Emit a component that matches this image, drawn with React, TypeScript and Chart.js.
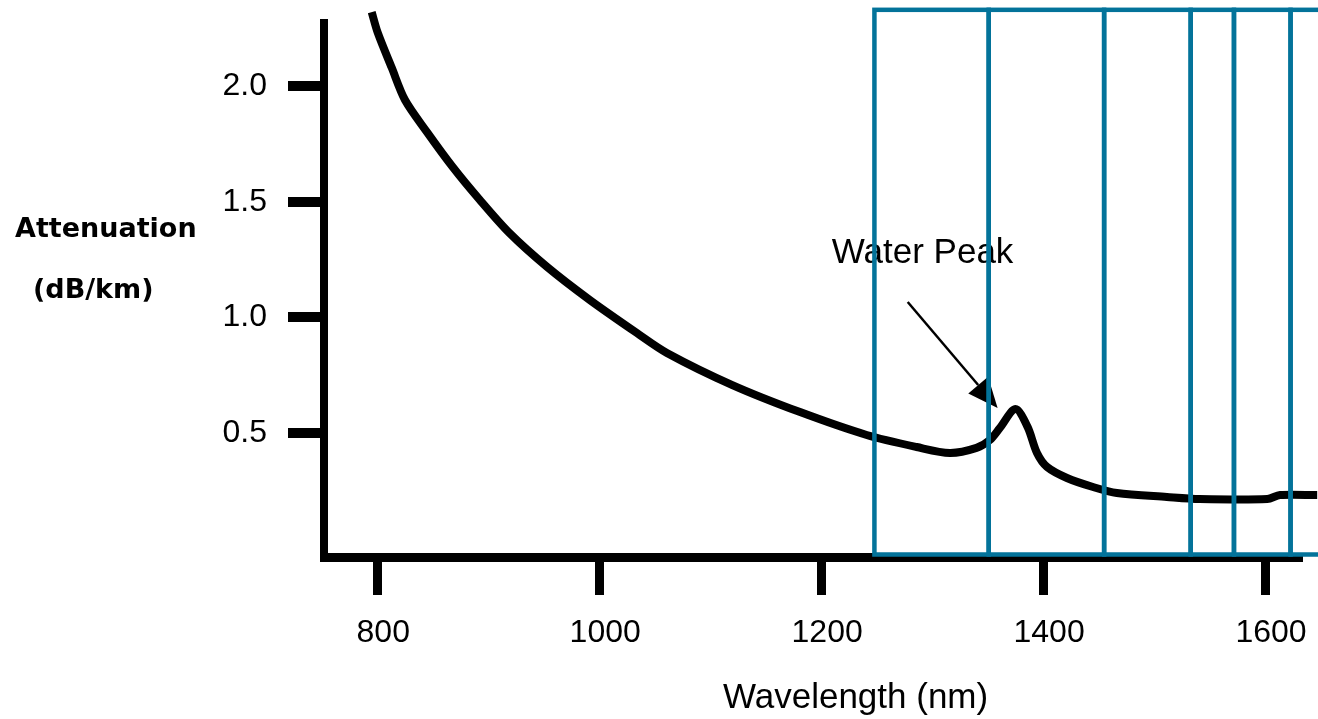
import React, { useEffect, useRef } from 'react';
import { Chart, registerables } from 'chart.js';

Chart.register(...registerables);

// ---- data ----
const wavelengths = [795, 800.5, 813, 825, 845, 868, 892, 919, 953, 991.5, 1034, 1061, 1120, 1181, 1241, 1286, 1316, 1340, 1352, 1361, 1375, 1386, 1394.5, 1403.5, 1421.5, 1445, 1466.5, 1511.5, 1541, 1602, 1613.5, 1647];
const attenuation = [2.32, 2.23, 2.08, 1.94, 1.8, 1.65, 1.51, 1.365, 1.218, 1.075, 0.932, 0.846, 0.707, 0.59, 0.491, 0.439, 0.413, 0.435, 0.469, 0.521, 0.603, 0.526, 0.413, 0.353, 0.305, 0.266, 0.24, 0.223, 0.214, 0.214, 0.231, 0.231];
const xTicks = [800, 1000, 1200, 1400, 1600];
const yTicks = [0.5, 1.0, 1.5, 2.0];
const bandEdges = [1248, 1351, 1455, 1533, 1572, 1623, 1675];
const bandTop = 2.33;
const bandBottom = -0.026;
const xMin = 752;
const xMax = 1629.7;
const yMin = -0.0368;
const yMax = 2.273;
const peakLabel = 'Water Peak';
const peakLabelAt = { x: 1209.6, y: 1.235 };
const arrowFrom = { x: 1278, y: 1.066 };
const arrowTo = { x: 1359, y: 0.608 };
const yTitleLines = ['Attenuation', '(dB/km)'];
const xTitle = 'Wavelength (nm)';

const TEAL = '#03739A';
const SANS = "'Liberation Sans', Arial, sans-serif";

export default function App() {
  const ref = useRef<HTMLCanvasElement>(null);

  useEffect(() => {
    document.body.style.margin = '0';
    const canvas = ref.current;
    if (!canvas) return;

    const overlay = {
      id: 'overlay',
      afterDatasetsDraw(chart: any) {
        const ctx = chart.ctx;
        const xs = chart.scales.x;
        const ys = chart.scales.y;
        const ca = chart.chartArea;
        ctx.save();
        ctx.fillStyle = '#000';
        ctx.strokeStyle = '#000';
        // y title (horizontal, two lines)
        ctx.font = "bold 27px 'DejaVu Sans', sans-serif";
        ctx.textBaseline = 'alphabetic';
        ctx.textAlign = 'left';
        ctx.fillText(yTitleLines[0], ca.left - 309, 237);
        ctx.fillText(yTitleLines[1], ca.left - 291, 298);
        // x title
        ctx.font = '35px ' + SANS;
        ctx.fillText(xTitle, 723, 708);
        // annotation text
        ctx.fillText(peakLabel, xs.getPixelForValue(peakLabelAt.x), ys.getPixelForValue(peakLabelAt.y));
        // arrow
        const x1 = xs.getPixelForValue(arrowFrom.x);
        const y1 = ys.getPixelForValue(arrowFrom.y);
        const x2 = xs.getPixelForValue(arrowTo.x);
        const y2 = ys.getPixelForValue(arrowTo.y);
        const ang = Math.atan2(y2 - y1, x2 - x1);
        const hl = 30;
        const hw = 13;
        const bx = x2 - hl * Math.cos(ang);
        const by = y2 - hl * Math.sin(ang);
        ctx.lineWidth = 2.5;
        ctx.beginPath();
        ctx.moveTo(x1, y1);
        ctx.lineTo(bx, by);
        ctx.stroke();
        ctx.beginPath();
        ctx.moveTo(x2, y2);
        ctx.lineTo(bx + hw * Math.sin(ang), by - hw * Math.cos(ang));
        ctx.lineTo(bx - hw * Math.sin(ang), by + hw * Math.cos(ang));
        ctx.closePath();
        ctx.fill();
        ctx.restore();
      },
      afterDraw(chart: any) {
        const ctx = chart.ctx;
        const xs = chart.scales.x;
        const ys = chart.scales.y;
        const top = ys.getPixelForValue(bandTop);
        const bot = ys.getPixelForValue(bandBottom);
        ctx.save();
        ctx.strokeStyle = TEAL;
        ctx.lineWidth = 4.5;
        ctx.lineJoin = 'miter';
        for (let i = 0; i < bandEdges.length - 1; i++) {
          const a = xs.getPixelForValue(bandEdges[i]);
          const b = xs.getPixelForValue(bandEdges[i + 1]);
          ctx.strokeRect(a, top, b - a, bot - top);
        }
        ctx.restore();
      },
    };

    const chart = new Chart(canvas, {
      type: 'line',
      data: {
        datasets: [
          {
            data: wavelengths.map((w, i) => ({ x: w, y: attenuation[i] })),
            borderColor: '#000',
            borderWidth: 8,
            pointRadius: 0,
            tension: 0.3,
            fill: false,
            clip: false as any,
          },
        ],
      },
      options: {
        animation: false,
        responsive: false,
        layout: { padding: { top: 23, right: 20, left: 0, bottom: 0 } },
        plugins: { legend: { display: false }, tooltip: { enabled: false } },
        scales: {
          x: {
            type: 'linear',
            min: xMin,
            max: xMax,
            afterBuildTicks: (s: any) => {
              s.ticks = xTicks.map((v) => ({ value: v }));
            },
            afterFit: (s: any) => {
              s.height = 162;
              s.paddingLeft = 0;
              s.paddingRight = 0;
            },
            grid: { display: true, drawOnChartArea: false, drawTicks: true, tickLength: 38, lineWidth: 9, color: '#000' },
            border: { display: true, color: '#000', width: 9 },
            ticks: {
              color: '#000',
              font: { family: SANS, size: 32 },
              padding: 19,
              labelOffset: 6,
              maxRotation: 0,
              autoSkip: false,
              callback: (v: any) => String(v),
            },
          },
          y: {
            type: 'linear',
            min: yMin,
            max: yMax,
            afterBuildTicks: (s: any) => {
              s.ticks = yTicks.map((v) => ({ value: v }));
            },
            afterFit: (s: any) => {
              s.width = 324;
              s.paddingTop = 0;
              s.paddingBottom = 0;
            },
            grid: { display: true, drawOnChartArea: false, drawTicks: true, tickLength: 36, lineWidth: 10, color: '#000' },
            border: { display: true, color: '#000', width: 8 },
            ticks: {
              color: '#000',
              font: { family: SANS, size: 32 },
              padding: 21,
              autoSkip: false,
              callback: (v: any) => Number(v).toFixed(1),
            },
          },
        },
      },
      plugins: [overlay],
    } as any);

    return () => chart.destroy();
  }, []);

  return (
    <canvas
      ref={ref}
      width={1318}
      height={719}
      style={{ position: 'absolute', left: 0, top: 0, display: 'block' }}
    />
  );
}
